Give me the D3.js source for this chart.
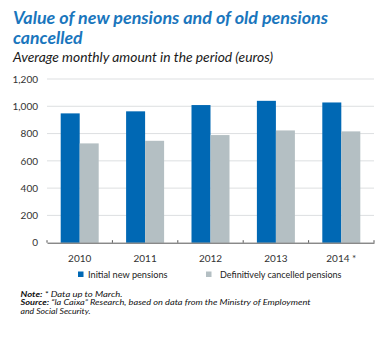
<!DOCTYPE html>
<html><head><meta charset="utf-8">
<script src="https://cdn.jsdelivr.net/npm/d3@7/dist/d3.min.js"></script>
<style>
html,body{margin:0;padding:0;background:#fff;}
svg{display:block;font-family:Lato,"Open Sans",sans-serif;}
</style></head>
<body>
<script>
const years = ["2010","2011","2012","2013","2014 *"];
const seriesNames = ["Initial new pensions","Definitively cancelled pensions"];
const initialNew = [948, 963, 1009, 1040, 1028];
const cancelled = [728, 747, 789, 823, 816];
const yTicks = [0,200,400,600,800,1000,1200];
const colors = ["#0068b4","#b4bfc3"];

const W=383,H=338;
const svg=d3.select("body").append("svg").attr("width",W).attr("height",H);

const x=d3.scaleBand().domain(years).range([47,374]);
const xs=d3.scaleBand().domain(seriesNames).range([x.bandwidth()/2-19, x.bandwidth()/2+19]);
const y=d3.scaleLinear().domain([0,1200]).range([242.7,79]);

// title
function fitText(sel,w){sel.attr("textLength",w).attr("lengthAdjust","spacingAndGlyphs");return sel;}
fitText(svg.append("text").attr("x",13).attr("y",24).attr("fill","#1a76bd").attr("font-size",16.5).attr("font-weight","bold").attr("font-style","italic").text("Value of new pensions and of old pensions"),315);
fitText(svg.append("text").attr("x",13).attr("y",43.5).attr("fill","#1a76bd").attr("font-size",16.5).attr("font-weight","bold").attr("font-style","italic").text("cancelled"),69.5);
fitText(svg.append("text").attr("x",13).attr("y",62).attr("fill","#1a1a1a").attr("font-size",12.5).attr("font-style","italic").text("Average monthly amount in the period (euros)"),260);

// gridlines
svg.append("g").selectAll("line").data(yTicks.filter(d=>d>0)).join("line")
  .attr("x1",47).attr("x2",374).attr("y1",d=>y(d)).attr("y2",d=>y(d))
  .attr("stroke","#d4d7d9").attr("stroke-width",0.8);

// y axis labels
const ya=svg.append("g").attr("transform","translate(47,0)").call(d3.axisLeft(y).tickValues(yTicks).tickFormat(d3.format(",")).tickSize(0).tickPadding(9));
ya.select(".domain").remove();
ya.selectAll("text").attr("font-size",10).attr("fill","#333").attr("font-family","Lato,sans-serif");

// bars
const data=years.map((yr,i)=>({year:yr,vals:[initialNew[i],cancelled[i]]}));
const g=svg.append("g").selectAll("g").data(data).join("g").attr("transform",d=>`translate(${x(d.year)},0)`);
g.selectAll("rect").data(d=>d.vals.map((v,j)=>({k:seriesNames[j],v,j}))).join("rect")
  .attr("x",d=>xs(d.k)).attr("width",xs.bandwidth()).attr("y",d=>y(d.v)).attr("height",d=>y(0)-y(d.v))
  .attr("fill",d=>colors[d.j]);

// x axis
const xa=svg.append("g").attr("transform",`translate(0,${y(0)})`).call(d3.axisBottom(x).tickSize(0).tickPadding(12));
xa.select(".domain").attr("stroke","#555").attr("stroke-width",1);
xa.selectAll("text").attr("font-size",10).attr("fill","#333").attr("font-family","Lato,sans-serif");
// boundary ticks (upward)
const bounds=years.map(d=>x(d)).concat([x.range()[1]]);
svg.append("g").selectAll("line").data(bounds).join("line")
  .attr("x1",d=>d).attr("x2",d=>d).attr("y1",y(0)-2.5).attr("y2",y(0))
  .attr("stroke","#555").attr("stroke-width",1);

// legend
const leg=[{x:78,tx:88,w:79.5},{x:206,tx:220,w:121.5}];
seriesNames.forEach((s,i)=>{
  svg.append("rect").attr("x",leg[i].x).attr("y",271.5).attr("width",5.5).attr("height",5.5).attr("fill",colors[i]);
  fitText(svg.append("text").attr("x",leg[i].tx).attr("y",277.5).attr("font-size",9).attr("fill","#222").text(s),leg[i].w);
});

// notes
const n1=svg.append("text").attr("x",20.5).attr("y",296.5).attr("font-size",8.3).attr("font-style","italic").attr("fill","#111");
n1.append("tspan").attr("font-weight","bold").text("Note:");
n1.append("tspan").text(" * Data up to March.");
fitText(n1,102);
const n2=svg.append("text").attr("x",20.5).attr("y",305.3).attr("font-size",8.3).attr("font-style","italic").attr("fill","#111");
n2.append("tspan").attr("font-weight","bold").text("Source:");
n2.append("tspan").text(" \u201Cla Caixa\u201D Research, based on data from the Ministry of Employment");
fitText(n2,290);
fitText(svg.append("text").attr("x",20.5).attr("y",314).attr("font-size",8.3).attr("font-style","italic").attr("fill","#111").text("and Social Security."),70);
</script>
</body></html>
